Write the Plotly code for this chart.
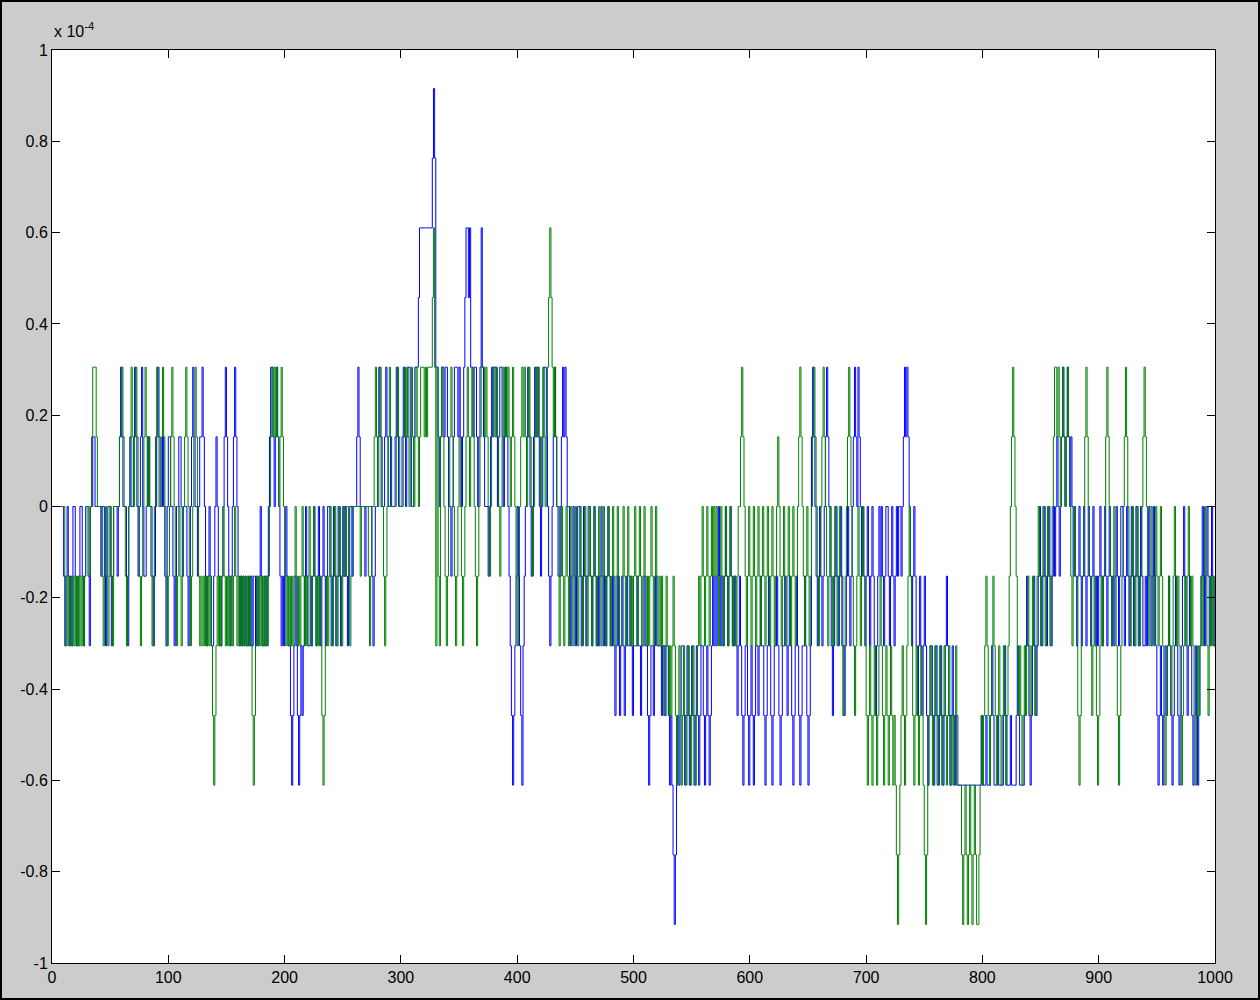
import plotly.graph_objects as go

# Quantisation step (one LSB of 16-bit) expressed in units of 1e-4
LSB = 1e4 / 65536.0

# Blue series, levels in LSB units, 100 samples per chunk
blue_000 = [0,0,0,0,0,0,0,0,0,-1, -2,-1,0,-1,-2,-1,-2,0,0,-1, -2,-2,-1,0,0,-1,-2,-1,0,0, -1,-2,0,0,1,1,0,0,0,0, 0,-1,0,0,-1,-2,-1,0,0,-1,
            -2,-1,0,0,0,-1,0,1,2,1, 0,0,0,-1,-2,0,1,0,0,1, 2,1,0,-1,0,1,2,0,-1,-1, 0,1,1,0,0,-1,-2,-1,0,1, 2,1,0,0,1,0,-1,-2,0,1]
blue_100 = [1,0,0,-1,-2,-1,0,0,1,1, 0,-1,0,0,0,-1,-2,-1,0,1, 2,1,0,0,-1,0,1,1,2,1, 0,-1,-2,-1,0,-1,-2,-2,-1,0, 1,0,-1,-2,-2,-1,0,1,2,1,
            0,-1,-2,-1,0,1,2,1,0,-1, -2,-1,-2,-1,-2,-1,-2,-2,-1,-2, -1,-2,-1,-1,-2,-1,-2,-1,0,-1, -2,-2,-1,-2,-1,0,1,2,2,1, 0,1,2,1,0,-1,-2,-1,-2,-1]
blue_200 = [0,-1,-2,-2,-3,-4,-3,-2,-1,-2, -3,-4,-3,-2,-3,-2,-1,0,-1,-2, -2,-1,-2,-1,0,-1,-2,-1,0,-1, -2,-1,0,-1,-2,-1,0,0,-1,-2, -1,0,-1,-2,-1,0,-1,-2,-1,0,
            -1,0,-1,-2,-1,0,0,-1,0,0, 0,1,2,1,0,0,0,0,-1,0, 0,0,0,0,-1,-2,-1,0,0,1, 2,1,0,0,0,1,2,1,0,0, 1,0,0,0,1,2,1,0,0,0]
blue_300 = [1,2,1,0,1,2,2,1,0,0, 1,2,2,2,3,4,4,4,4,4, 4,4,4,4,4,4,5,6,5,2, 2,1,0,1,2,2,1,2,2,1, 0,0,-1,0,1,2,2,2,1,2,
            1,0,1,2,3,4,4,3,4,2, 2,1,2,2,1,0,1,2,4,2, 1,0,0,0,-1,0,1,2,1,2, 2,1,0,1,2,2,1,0,1,2, 1,0,-1,-2,-3,-4,-3,-2,-1,0]
blue_400 = [-1,-2,-3,-4,-2,-1,0,1,2,1, 0,-1,0,1,2,1,2,1,0,-1, 0,1,2,2,1,0,-1,-2,-1,0, 1,2,1,0,0,-1,0,1,2,1, 2,1,0,0,-1,-2,-1,0,-1,-2,
            -1,0,0,-1,-2,-1,0,-1,-2,-1, 0,0,-1,-2,-1,0,-1,-2,-1,-2, -1,0,-1,-2,-1,-2,-1,0,-1,-2, -2,-1,-2,-3,-2,-1,-2,-3,-2,-1, -2,-3,-2,-1,-2,-2,-1,-2,-3,-2]
blue_500 = [-2,-2,-1,-2,-2,-3,-2,-2,-1,-2, -2,-3,-4,-3,-2,-2,-3,-2,-1,-2, -2,-2,-2,-3,-2,-2,-3,-2,-2,-3, -4,-3,-4,-5,-6,-5,-4,-3,-4,-3, -2,-2,-3,-4,-3,-2,-3,-4,-3,-2,
            -3,-4,-3,-2,-3,-4,-3,-2,-2,-3, -4,-3,-2,-3,-4,-3,-2,-1,-2,-1, -2,-1,0,-1,-2,-1,-2,-1,0,-1, -2,-1,0,-1,-2,-2,-1,-2,-3,-2, -1,-2,-3,-4,-3,-2,-2,-3,-4,-3]
blue_600 = [-2,-3,-4,-3,-2,-2,-3,-2,-1,-2, -2,-3,-4,-3,-2,-1,-2,-3,-4,-3, -2,-2,-1,-2,-3,-4,-3,-2,-2,-1, -2,-3,-2,-1,-2,-3,-4,-3,-2,-1, -2,-3,-4,-3,-2,-2,-1,-2,-3,-4,
            -3,-2,1,2,1,0,-1,-2,-1,0, -1,-2,-1,0,1,2,1,0,-1,-2, -3,-2,-1,0,-1,-2,-1,0,-1,-2, -3,-2,-1,0,-1,-2,-1,0,1,2, 1,0,2,1,0,-1,0,-1,-2,-1]
blue_700 = [0,-1,-2,-1,0,-1,-2,-3,-2,-1, 0,-1,0,-1,-2,-1,0,0,-1,-2, -1,0,-1,-2,-1,0,-1,0,0,-1, 0,1,2,1,2,1,0,-1,-2,-1, 0,-1,-2,-3,-2,-1,-2,-3,-2,-1,
            -2,-3,-4,-3,-2,-2,-3,-4,-3,-2, -3,-4,-3,-2,-3,-4,-3,-2,-1,-2, -3,-4,-3,-2,-3,-4,-3,-4,-4,-4, -4,-4,-4,-4,-4,-4,-4,-4,-4,-4, -4,-4,-4,-4,-4,-4,-4,-4,-3,-4]
blue_800 = [-4,-4,-3,-4,-4,-4,-3,-2,-3,-4, -4,-4,-3,-4,-4,-4,-4,-3,-2,-3, -4,-4,-4,-3,-4,-4,-4,-4,-3,-2, -3,-4,-4,-4,-4,-3,-2,-1,-2,-3, -4,-3,-2,-1,-2,-3,-2,-1,0,-1,
            -2,-1,0,-1,-2,-1,0,-1,-2,-1, 0,-1,0,1,0,-1,0,1,2,1, 0,1,2,1,0,1,0,-1,0,-1, -2,-1,0,-1,-2,-1,0,-1,-2,-1, 0,-1,-2,-1,0,-1,-2,-1,-2,-1]
blue_900 = [0,-1,-2,-1,0,-1,-2,-1,0,-1, -2,-1,-2,-1,0,-1,-2,-1,0,0, -1,-2,-1,0,-1,-2,-1,0,-1,-2, -1,0,-1,-2,-1,0,-1,-2,-2,-1, -2,-1,0,-1,-2,-1,0,-1,-2,-3,
            -4,-3,-2,-3,-4,-3,-2,-3,-2,-1, -2,-3,-4,-3,-2,-1,-2,-3,-4,-3, -2,-1,0,-1,-2,-3,-2,-1,-2,-3, -4,-3,-2,-3,-4,-3,-2,-1,0,-1, -2,-1,0,-1,-2,-1,0,-1,-2,-1]

# Green series
green_000 = [0,0,0,0,0,0,0,0,0,0, -1,-2,-1,-2,-1,-2,-2,-1,-2,-1, -2,-1,-2,-1,-2,-1,-2,-1,0,0, 0,-1,0,1,2,2,2,1,0,0, 0,0,-1,-2,-1,0,-1,-2,-1,0,
             -1,-2,0,0,0,0,0,1,1,2, 1,0,-1,-2,-1,0,1,2,1,0, 1,2,1,0,-1,-2,-1,0,1,2, 1,0,1,0,-1,-2,-1,0,1,2, 1,0,0,1,2,1,0,-1,-2,-1]
green_100 = [0,1,2,1,0,-1,-2,-1,0,-1, -2,-1,0,1,2,1,0,-1,-2,-1, 0,1,2,1,0,-1,-2,-1,-2,-1, -2,-1,-2,-1,-2,-1,-2,-3,-4,-3, -2,-1,-2,-1,-2,-1,0,-1,-2,-1,
             -2,-1,-2,-1,-2,-1,0,-1,-2,-1, -2,-1,-2,-1,-2,-1,-2,-1,-2,-1, -2,-3,-4,-3,-2,-1,-2,-1,-2,-1, -2,-1,-2,-1,-2,-1,0,1,2,1, 2,1,2,1,0,1,2,1,0,-1]
green_200 = [-2,-1,-2,-1,-2,-1,-2,-1,0,-1, -2,-1,-2,-1,0,-1,-2,-1,-2,-1, 0,-1,-2,-1,0,-1,-2,-1,-2,-1, -2,-3,-4,-3,-2,-1,-2,-1,0,-1, -2,-1,0,-1,-2,-1,0,-1,-2,-1,
             0,-1,0,0,-1,-2,-1,0,0,0, 0,0,0,0,-1,0,0,0,0,0, 0,-1,-2,-1,0,0,1,2,1,0, 1,2,1,0,-1,-2,-1,0,1,2, 1,0,0,0,0,1,2,1,0,0]
green_300 = [0,1,2,1,2,1,0,1,2,1, 0,1,2,1,0,1,2,2,2,1, 2,1,2,2,2,2,3,4,2,-2, 2,-1,-2,1,2,1,0,-1,-2,-1, 0,1,2,1,0,-1,-2,-1,0,1,
             0,-1,-2,-1,0,1,2,1,0,1, 2,1,0,-1,-2,-1,0,1,2,2, 2,1,2,1,0,-1,0,1,2,2, 1,2,1,0,-1,0,1,2,1,2, 1,2,1,0,1,2,1,0,-1,-2]
green_400 = [-1,0,1,2,1,2,1,0,1,2, 1,0,-1,0,1,2,1,2,1,0, 1,2,1,0,1,2,3,4,3,2, 1,2,1,0,-1,-2,-1,0,-1,-2, -1,0,-1,-2,-1,0,-1,-2,-1,0,
             -1,-2,-1,0,-1,-2,-1,0,-1,-2, -1,0,-1,-2,-1,0,-1,-2,-1,0, -1,-2,-1,0,-1,-2,-1,0,-1,-2, -1,0,-1,-2,-1,0,-1,-2,-2,-1, 0,-1,-2,-1,0,-1,-2,-1,-2,-1]
green_500 = [0,-1,-2,-1,0,-1,-2,-1,0,-1, -2,-1,-2,-1,0,-1,-2,-1,0,-1, -2,-1,-2,-1,-2,-3,-2,-1,-2,-3, -2,-3,-2,-1,-2,-3,-4,-3,-2,-3, -4,-3,-2,-3,-4,-3,-2,-3,-4,-3,
             -2,-3,-4,-3,-2,-1,-2,-1,0,-1, -2,-1,0,-1,-2,-1,0,-1,0,-1, 0,-1,-2,-1,0,-1,-2,-1,0,-1, -2,-1,0,-1,-2,-1,-1,-2,-1,0, 0,1,2,1,0,-1,-2,-1,0,-1]
green_600 = [-2,-1,0,-1,-2,-1,0,-1,-2,-1, 0,-1,-2,-1,0,-1,-2,-1,0,-1, -2,-1,0,1,0,-1,-2,-1,0,-1, -2,-1,0,-1,-2,-1,0,-1,-2,-1, 0,1,2,1,0,-1,-2,-1,0,-1,
             -2,-1,0,1,2,1,0,-1,-2,-1, 0,1,2,1,0,-1,-2,-1,0,-1, -2,-1,0,-1,-2,-1,0,-1,-2,-3, -2,-1,0,1,2,1,0,-1,-2,-3, -2,-1,0,-1,-2,-1,0,-1,-2,-3]
green_700 = [-4,-3,-2,-3,-4,-3,-2,-3,-4,-3, -2,-1,-2,-3,-4,-3,-2,-3,-4,-3, -2,-3,-4,-3,-4,-5,-6,-5,-4,-3, -2,-3,-4,-3,-2,-1,0,-1,-2,-3, -4,-3,-2,-3,-4,-3,-2,-3,-4,-5,
             -6,-5,-4,-3,-2,-3,-4,-3,-2,-3, -4,-3,-2,-3,-4,-3,-2,-3,-4,-3, -2,-3,-4,-3,-4,-3,-2,-3,-4,-4, -4,-5,-6,-5,-4,-5,-6,-5,-4,-5, -6,-5,-4,-5,-6,-6,-5,-4,-3,-4]
green_800 = [-3,-2,-1,-2,-3,-4,-3,-2,-1,-2, -3,-4,-3,-2,-3,-4,-3,-2,-3,-4, -3,-2,-1,0,1,2,1,0,-1,-2, -3,-2,-3,-4,-3,-2,-3,-2,-1,-2, -3,-2,-1,-2,-3,-2,-1,0,-1,-2,
             -1,0,-1,-2,-1,0,-1,-2,-1,0, 1,2,2,1,2,1,0,1,2,1, 0,1,2,1,0,-1,-2,-1,0,-1, -2,-3,-4,-3,-2,-1,0,1,2,1, 0,-1,-2,-3,-2,-1,-2,-3,-4,-3]
green_900 = [-2,-1,-2,-1,0,1,2,1,0,-1, -2,-1,0,-1,-2,-3,-4,-3,-2,-1, 0,1,2,1,0,-1,-2,-1,0,-1, -2,-1,0,-1,-2,-1,0,1,2,1, 0,-1,-2,-1,0,-1,-2,-1,0,-1,
             -2,-1,0,-1,-2,-3,-4,-3,-2,-1, -2,-3,-2,-1,0,-1,-2,-1,-2,-3, -4,-3,-2,-1,-2,-1,0,-1,-2,-1, -2,-3,-4,-3,-2,-3,-2,-1,-2,-1, 0,-1,-2,-3,-2,-1,-2,-1,-2,-2]

x_ticks = [0, 100, 200, 300, 400, 500, 600, 700, 800, 900, 1000]
y_ticks = [-1, -0.8, -0.6, -0.4, -0.2, 0, 0.2, 0.4, 0.6, 0.8, 1]
y_tick_text = ["-1", "-0.8", "-0.6", "-0.4", "-0.2", "0", "0.2", "0.4", "0.6", "0.8", "1"]

blue_levels = blue_000 + blue_100 + blue_200 + blue_300 + blue_400 + blue_500 + blue_600 + blue_700 + blue_800 + blue_900
green_levels = green_000 + green_100 + green_200 + green_300 + green_400 + green_500 + green_600 + green_700 + green_800 + green_900

x_blue = list(range(1, len(blue_levels) + 1))
x_green = list(range(1, len(green_levels) + 1))
y_blue = [k * LSB for k in blue_levels]
y_green = [k * LSB for k in green_levels]

fig = go.Figure()
fig.add_trace(go.Scatter(x=x_blue, y=y_blue, mode="lines", line=dict(color="#0000ff", width=1, shape="hv"),
                         showlegend=False, hoverinfo="skip"))
fig.add_trace(go.Scatter(x=x_green, y=y_green, mode="lines", line=dict(color="#008000", width=1, shape="hv"),
                         showlegend=False, hoverinfo="skip"))

axis_common = dict(showgrid=False, zeroline=False, showline=True, linecolor="black", linewidth=1,
                   mirror="ticks", ticks="inside", ticklen=8, tickcolor="black", tickwidth=1,
                   tickfont=dict(family="Liberation Sans, Arial, sans-serif", size=16, color="#000000"))

fig.update_xaxes(range=[0, 1000], tickvals=x_ticks, ticktext=[str(v) for v in x_ticks], **axis_common)
fig.update_yaxes(range=[-1, 1], tickvals=y_ticks, ticktext=y_tick_text, **axis_common)

W, H = 1260, 1000
ml, mr, mt, mb = 52, 45, 50, 37
pw, ph = W - ml - mr, H - mt - mb

fig.update_layout(
    width=W, height=H,
    margin=dict(l=ml, r=mr, t=mt, b=mb, pad=0),
    paper_bgcolor="#cccccc",
    plot_bgcolor="#ffffff",
    annotations=[dict(text="x 10<sup>-4</sup>", xref="paper", yref="paper",
                      x=0.0, y=1 + 8 / ph, xanchor="left", yanchor="bottom", showarrow=False,
                      font=dict(family="Liberation Sans, Arial, sans-serif", size=16, color="#000000"))],
    shapes=[dict(type="rect", xref="paper", yref="paper",
                 x0=-(ml - 1) / pw, x1=1 + (mr - 1) / pw, y0=-(mb - 1) / ph, y1=1 + (mt - 1) / ph,
                 line=dict(color="black", width=2), fillcolor="rgba(0,0,0,0)", layer="below")],
)

fig.write_html("out.html")
